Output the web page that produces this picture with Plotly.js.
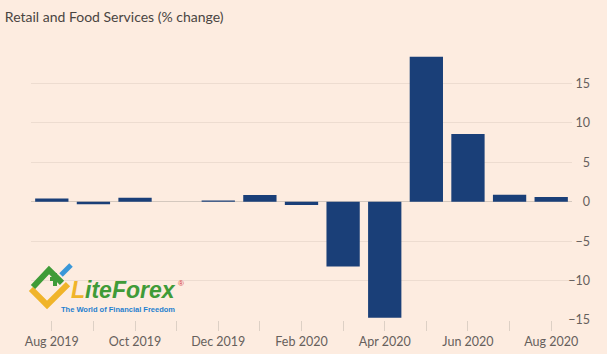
<!DOCTYPE html>
<html><head><meta charset="utf-8">
<script src="https://cdn.plot.ly/plotly-3.0.1.min.js"></script>
<style>html,body{margin:0;padding:0;background:#fdece0;}</style>
</head><body>
<div id="chart" style="width:607px;height:354px;"></div>
<script>
const months = ['Aug 2019','Sep 2019','Oct 2019','Nov 2019','Dec 2019','Jan 2020','Feb 2020','Mar 2020','Apr 2020','May 2020','Jun 2020','Jul 2020','Aug 2020'];
const pctChange = [0.4, -0.3, 0.5, 0.0, 0.15, 0.85, -0.4, -8.2, -14.7, 18.4, 8.6, 0.9, 0.6];
const tickText = ['Aug 2019','','Oct 2019','','Dec 2019','','Feb 2020','','Apr 2020','','Jun 2020','','Aug 2020'];
const yTicks = [-15,-10,-5,0,5,10,15];

const BG = '#fdece0';
const L = 31, R = 14, T = 52, B = 34, W = 607, H = 354;
const PW = W - L - R, PH = H - T - B;
function px(x){ return (x - L) / PW; }
function py(y){ return (H - B - y) / PH; }
function path(pts){ return 'M' + pts.map(p => px(p[0]).toFixed(4) + ',' + py(p[1]).toFixed(4)).join(' L'); }

const shapes = [
  {type:'path', xref:'paper', yref:'paper', path: path([[31,289],[47,305],[68,284]]), line:{color:'#f0b42a', width:6}},
  {type:'path', xref:'paper', yref:'paper', path: path([[33,287],[49,270],[62,283]]), line:{color:'#3f9b38', width:6}},
  {type:'path', xref:'paper', yref:'paper', path: path([[50,279],[60,279]]), line:{color:'#3f9b38', width:4}},
  {type:'path', xref:'paper', yref:'paper', path: path([[55,273],[55,286]]), line:{color:'#3f9b38', width:4}},
  {type:'path', xref:'paper', yref:'paper', path: path([[61,275],[71,265]]), line:{color:'#3a97d8', width:5}}
];

const annotations = [
  {xref:'paper', yref:'paper', x: px(123), y: py(303.5), xanchor:'center', yanchor:'bottom', showarrow:false, borderpad:0,
   text:'<b><i><span style="color:#f0b42a">L</span>iteForex</i></b>',
   font:{family:'Liberation Sans, Arial, sans-serif', size:23, color:'#3f9b38'}},
  {xref:'paper', yref:'paper', x: px(181), y: py(283), xanchor:'center', yanchor:'middle', showarrow:false, borderpad:0,
   text:'®', font:{family:'Liberation Sans, Arial, sans-serif', size:8, color:'#d6373a'}},
  {xref:'paper', yref:'paper', x: px(118), y: py(304), xanchor:'center', yanchor:'top', showarrow:false, borderpad:0,
   text:'<b>The World of Financial Freedom</b>',
   font:{family:'Liberation Sans, Arial, sans-serif', size:7.5, color:'#1f80cf'}}
];

const trace = {
  type:'bar', x: months, y: pctChange,
  marker:{color:'#1a3f78'},
  hoverinfo:'skip'
};

const layout = {
  width: W, height: H,
  paper_bgcolor: BG, plot_bgcolor: BG,
  margin:{l:L, r:R, t:T, b:B, pad:0},
  showlegend:false,
  bargap:0.2,
  title:{text:'Retail and Food Services (% change)', x:0.008, xref:'container', xanchor:'left', y:0.952, yref:'container', yanchor:'middle',
         font:{family:'Lato, sans-serif', size:14, color:'#4a4542'}},
  font:{family:'Lato, sans-serif', color:'#66605c'},
  xaxis:{
    type:'category', domain:[0, 541/PW], anchor:'y',
    tickmode:'array', tickvals: months, ticktext: tickText,
    ticks:'outside', ticklen:10, tickcolor:'#ddd0c5', tickwidth:1,
    showgrid:false, showline:false, zeroline:false,
    tickfont:{family:'Lato, sans-serif', size:12.5, color:'#66605c'},
    range:[-0.5, 12.5], fixedrange:true
  },
  yaxis:{
    range:[-15, 19], anchor:'free', position:1, side:'left',
    tickmode:'array', tickvals: yTicks,
    showgrid:true, gridcolor:'#eddcd0', gridwidth:1,
    zeroline:true, zerolinecolor:'#d4c8be', zerolinewidth:1,
    showline:false, ticks:'', ticklabelstandoff:3,
    tickfont:{family:'Lato, sans-serif', size:12.5, color:'#66605c'},
    fixedrange:true
  },
  shapes: shapes,
  annotations: annotations
};

Plotly.newPlot('chart', [trace], layout, {displayModeBar:false, staticPlot:true});
</script>
</body></html>
